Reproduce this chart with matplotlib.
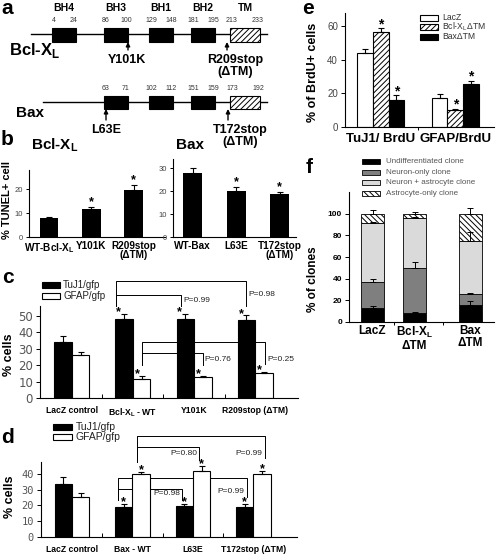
import matplotlib
matplotlib.use('Agg')
import matplotlib.pyplot as plt
from matplotlib.patches import Rectangle
import numpy as np

plt.rcParams['font.family'] = 'Liberation Sans'
plt.rcParams['mathtext.fontset'] = 'custom'
plt.rcParams['mathtext.rm'] = 'Liberation Sans'
plt.rcParams['mathtext.bf'] = 'Liberation Sans:bold'
plt.rcParams['hatch.linewidth'] = 0.7
plt.rcParams['axes.linewidth'] = 0.8

XL = 'X$_\\mathregular{L}$'

# ---------------- data ----------------
# a: domain map
dom_names = ['BH4', 'BH3', 'BH1', 'BH2', 'TM']
bcl_dom = [(4, 24), (86, 100), (129, 148), (181, 195), (213, 233)]
bax_dom = [None, (63, 71), (102, 112), (151, 159), (173, 192)]

# b: TUNEL
bcl_mut = ['WT-Bcl-' + XL, 'Y101K', 'R209stop\n(\u0394TM)']
bcl_tunel = [7.8, 11.5, 19.8]
bcl_tunel_err = [0.5, 1.0, 1.8]
bcl_tunel_sig = [False, True, True]
bax_mut = ['WT-Bax', 'L63E', 'T172stop\n(\u0394TM)']
bax_tunel = [28.0, 20.2, 18.7]
bax_tunel_err = [2.0, 1.5, 0.8]
bax_tunel_sig = [False, True, True]

# c: Bcl-XL mutants
c_groups = ['LacZ control', 'Bcl-' + XL + ' - WT', 'Y101K', 'R209stop (\u0394TM)']
c_tuj1 = [33.9, 47.9, 48.3, 47.7]
c_tuj1_err = [3.7, 3.4, 3.0, 2.6]
c_gfap = [26.1, 11.5, 12.9, 15.0]
c_gfap_err = [1.9, 1.8, 0.6, 0.9]
c_tuj1_sig = [False, True, True, True]
c_gfap_sig = [False, True, True, True]
c_pvals = ['P=0.98', 'P=0.99', 'P=0.25', 'P=0.76']

# d: Bax mutants
d_groups = ['LacZ control', 'Bax - WT', 'L63E', 'T172stop (\u0394TM)']
d_tuj1 = [33.5, 19.3, 19.7, 19.3]
d_tuj1_err = [4.5, 1.7, 1.2, 1.7]
d_gfap = [25.6, 40.0, 42.1, 40.0]
d_gfap_err = [2.3, 1.5, 3.2, 2.1]
d_tuj1_sig = [False, True, True, True]
d_gfap_sig = [False, True, True, True]
d_pvals = ['P=0.99', 'P=0.80', 'P=0.99', 'P=0.98']

# e: BrdU
e_groups = ['TuJ1/ BrdU', 'GFAP/BrdU']
e_series = ['LacZ', 'Bcl-' + XL + '\u0394TM', 'Bax\u0394TM']
e_lacz = [44.2, 17.2]
e_lacz_err = [2.4, 2.6]
e_bcl = [56.5, 9.9]
e_bcl_err = [2.5, 1.0]
e_bax = [15.9, 25.8]
e_bax_err = [2.9, 1.9]
e_sig = [[False, False], [True, True], [True, True]]

# f: clone types
f_groups = ['LacZ', 'Bcl-' + XL + '\n\u0394TM', 'Bax\n\u0394TM']
f_types = ['Undifferentiated clone', 'Neuron-only clone',
           'Neuron + astrocyte clone', 'Astrocyte-only clone']
f_undiff = [12.7, 8.3, 15.7]
f_undiff_err = [2.1, 1.3, 4.0]
f_neuron = [24.1, 41.7, 9.9]
f_neuron_err = [2.7, 5.0, 1.4]
f_both = [54.2, 46.0, 48.8]
f_both_err = [1.5, 1.0, 9.0]
f_astro = [9.0, 4.0, 25.6]
f_astro_err = [3.5, 2.0, 5.0]

# ---------------- figure ----------------
W, H = 496, 555
fig = plt.figure(figsize=(W / 100, H / 100), dpi=100)


def place(l, t, r, b):
    return [l / W, 1 - b / H, (r - l) / W, (b - t) / H]


# overlay in pixel coords, drawn on top of the panels
ov = fig.add_axes([0, 0, 1, 1])
ov.set_xlim(0, W)
ov.set_ylim(H, 0)
ov.axis('off')
ov.set_zorder(10)

for lab, x, y in [('a', 1, 14), ('b', 1, 145), ('c', 2, 283), ('d', 1, 443),
                  ('e', 302, 14), ('f', 306, 173)]:
    ov.text(x, y, lab, fontsize=15, fontweight='bold', ha='left', va='baseline')

# ---------------- a: schematic ----------------
slot_left = [52, 104, 149, 191, 230]
slot_w = [24, 24, 24, 24, 30]
for name, l, w in zip(dom_names, slot_left, slot_w):
    ov.text(l + w / 2, 8, name, fontsize=7.5, fontweight='bold', ha='center', va='center')


def draw_map(doms, y_line, top, bot, y_num, x0):
    ov.plot([x0, 267], [y_line, y_line], color='k', lw=1)
    for i, (d, l, w) in enumerate(zip(doms, slot_left, slot_w)):
        if d is None:
            continue
        tm = dom_names[i] == 'TM'
        ov.add_patch(Rectangle((l, top), w, bot - top, facecolor='white' if tm else 'black',
                               edgecolor='black', hatch='//////' if tm else None, lw=0.8, zorder=3))
        ov.text(l + 2, y_num, str(d[0]), fontsize=5, ha='center', va='center', color='#333')
        ov.text(l + w - 2, y_num, str(d[1]), fontsize=5, ha='center', va='center', color='#333')


draw_map(bcl_dom, 34, 28, 41.5, 21, 31)
draw_map(bax_dom, 102, 95.5, 108.5, 88, 43)
ov.text(9, 50, 'Bcl-' + XL, fontsize=12, fontweight='bold', ha='left', va='center')
ov.text(16, 113, 'Bax', fontsize=11, fontweight='bold', ha='left', va='center')

arrow = dict(arrowstyle='-|>', color='k', lw=1, mutation_scale=6, shrinkA=0, shrinkB=0)
for x, y0, y1, lines, tx, ty in [(128, 50, 42, ['Y101K'], 127, 60),
                                 (227, 50, 42, ['R209stop', '(\u0394TM)'], 235, 60),
                                 (106, 120, 109, ['L63E'], 106, 130),
                                 (228, 120, 109, ['T172stop', '(\u0394TM)'], 240, 130)]:
    ov.annotate('', xy=(x, y1), xytext=(x, y0), arrowprops=arrow)
    for k, s in enumerate(lines):
        ov.text(tx, ty + 12 * k, s, fontsize=9, fontweight='bold', ha='center', va='center')


# ---------------- helpers ----------------
def clean(ax):
    ax.spines['top'].set_visible(False)
    ax.spines['right'].set_visible(False)
    ax.patch.set_alpha(0)


def up_err(ax, x, v, e, lw=0.8, cap=2.2):
    ax.errorbar(x, v, yerr=[np.zeros(len(e)), e], fmt='none', ecolor='k',
                elinewidth=lw, capsize=cap, capthick=lw, zorder=4)


def stars(ax, x, v, e, sig, dx=0, dy=-1, size=9):
    for xi, vi, ei, s in zip(x, v, e, sig):
        if s:
            ax.annotate('*', (xi, vi + ei), xytext=(dx, dy), textcoords='offset points',
                        ha='center', va='baseline', fontsize=size, fontweight='bold',
                        annotation_clip=False)


def bracket(ax, x0, x1, y, y0, y1, label, lx, ly, ha):
    ax.plot([x0, x0, x1, x1], [y0, y, y, y1], color='k', lw=0.7, clip_on=False, zorder=1)
    ax.text(lx, ly, label, fontsize=6, ha=ha, va='center', color='#222')


# ---------------- b ----------------
ov.text(31, 145, 'Bcl-' + XL, fontsize=11, fontweight='bold', ha='left', va='center')
ov.text(176, 145, 'Bax', fontsize=11, fontweight='bold', ha='left', va='center')
ov.text(7, 200, '% TUNEL+ cell', fontsize=8, fontweight='bold', rotation=90,
        ha='center', va='center')

for box, vals, errs, sig, labs, yl, yt, xl in [
        ((29, 170, 165, 237), bcl_tunel, bcl_tunel_err, bcl_tunel_sig, bcl_mut, 28, [0, 10, 20], (-0.47, 2.74)),
        ((173, 159, 296, 237), bax_tunel, bax_tunel_err, bax_tunel_sig, bax_mut, 34, [0, 10, 20, 30], (-0.45, 2.37))]:
    ax = fig.add_axes(place(*box))
    x = np.arange(len(vals))
    ax.bar(x, vals, width=0.44, color='black', zorder=2)
    up_err(ax, x, vals, errs)
    stars(ax, x, vals, errs, sig, dy=1.5, size=9)
    ax.set_ylim(0, yl)
    ax.set_xlim(*xl)
    ax.set_yticks(yt)
    ax.set_xticks(x)
    ax.set_xticklabels(labs, fontsize=7.2, fontweight='bold', linespacing=0.9)
    ax.tick_params(axis='x', length=0, pad=3)
    ax.tick_params(axis='y', length=2.5, width=0.7, labelsize=5.5, labelcolor='#444', pad=2)
    clean(ax)

# ---------------- c & d ----------------
W_BAR = 0.285
OFF = 0.143


def grouped(box, groups, tuj, tuj_e, gfap, gfap_e, tsig, gsig, ylim, yt, xl, tickfont, tsize, sdx):
    ax = fig.add_axes(place(*box))
    g = np.arange(len(groups))
    xb, xw = g - OFF, g + OFF
    ax.bar(xb, tuj, width=W_BAR, color='black', edgecolor='black', lw=0.8, zorder=2)
    ax.bar(xw, gfap, width=W_BAR, color='white', edgecolor='black', lw=0.8, zorder=2)
    up_err(ax, xb, tuj, tuj_e)
    up_err(ax, xw, gfap, gfap_e)
    stars(ax, xb, tuj, tuj_e, tsig, dx=sdx[0], dy=-1)
    stars(ax, xw, gfap, gfap_e, gsig, dx=sdx[1], dy=-1)
    ax.set_ylim(0, ylim)
    ax.set_xlim(*xl)
    ax.set_yticks(yt)
    ax.set_xticks(g)
    ax.set_xticklabels(groups, fontsize=6.2, fontweight='bold')
    ax.set_xticks(g[:-1] + 0.5, minor=True)
    ax.tick_params(axis='x', which='major', length=0, pad=6)
    ax.tick_params(axis='x', which='minor', direction='in', length=3, width=0.7)
    ax.tick_params(axis='y', length=3, width=0.7, labelsize=tsize, labelcolor='#555', pad=2)
    for t in ax.get_yticklabels():
        t.set_family(tickfont)
    clean(ax)
    return ax, xb, xw


axc, xb, xw = grouped((40, 306, 298, 398), c_groups, c_tuj1, c_tuj1_err, c_gfap, c_gfap_err,
                      c_tuj1_sig, c_gfap_sig, 56, [0, 10, 20, 30, 40, 50], (-0.52, 3.70),
                      'DejaVu Sans', 8.5, (-4, -3))
bracket(axc, xb[1] - 0.14, xb[3], 71, 56, 56, c_pvals[0], xb[3] + 0.03, 63, 'left')
bracket(axc, xb[1] - 0.14, xb[2] - 0.07, 63, 56, 56, c_pvals[1], xb[2] - 0.04, 59.4, 'left')
bracket(axc, xw[1], xw[3] + 0.02, 34, 21, 21, c_pvals[2], xw[3] + 0.05, 23.6, 'left')
bracket(axc, xw[1], xw[2], 27.3, 20, 20, c_pvals[3], xw[2] + 0.03, 23.6, 'left')
ov.text(9, 355, '% cells', fontsize=9, fontweight='bold', rotation=90, ha='center', va='center')
ov.add_patch(Rectangle((42, 282), 18, 6, facecolor='black', edgecolor='black', lw=0.8))
ov.add_patch(Rectangle((42, 292.5), 18, 6, facecolor='white', edgecolor='black', lw=0.8))
ov.text(63, 285, 'TuJ1/gfp', fontsize=7, ha='left', va='center', color='#222')
ov.text(63, 296, 'GFAP/gfp', fontsize=7, ha='left', va='center', color='#222')

axd, xb, xw = grouped((41, 462, 297, 537), d_groups, d_tuj1, d_tuj1_err, d_gfap, d_gfap_err,
                      d_tuj1_sig, d_gfap_sig, 47.6, [0, 10, 20, 30, 40], (-0.51, 3.72),
                      'DejaVu Sans Mono', 7.5, (0, 0))
bracket(axd, xw[1] - 0.07, xw[3] + 0.05, 64.1, 47.6, 50.2, d_pvals[0], xw[3] + 0.01, 52.7, 'right')
bracket(axd, xw[1] - 0.07, xw[2] - 0.04, 57.1, 47.6, 48.9, d_pvals[1], xw[2] - 0.07, 52.7, 'right')
bracket(axd, xb[1] - 0.1, xb[3] + 0.03, 37.5, 23.5, 25.4, d_pvals[2], xb[3] - 0.01, 28.6, 'right')
bracket(axd, xb[1] - 0.1, xb[2] - 0.03, 30.5, 23.5, 23.5, d_pvals[3], xb[2] - 0.06, 27.3, 'right')
ov.text(10, 497, '% cells', fontsize=9, fontweight='bold', rotation=90, ha='center', va='center')
ov.add_patch(Rectangle((53, 424), 19, 6, facecolor='black', edgecolor='black', lw=0.8))
ov.add_patch(Rectangle((53, 434), 19, 6, facecolor='white', edgecolor='black', lw=0.8))
ov.text(76, 427, 'TuJ1/gfp', fontsize=7.5, ha='left', va='center', color='#222')
ov.text(76, 437.5, 'GFAP/gfp', fontsize=7.5, ha='left', va='center', color='#222')

# ---------------- e ----------------
axe = fig.add_axes(place(345, 13, 494, 127))
g = np.arange(len(e_groups))
ew = 0.21
styles = [dict(color='white', hatch=None), dict(color='white', hatch='//////'),
          dict(color='black', hatch=None)]
for k, (vals, errs) in enumerate([(e_lacz, e_lacz_err), (e_bcl, e_bcl_err), (e_bax, e_bax_err)]):
    x = g + (k - 1) * ew
    axe.bar(x, vals, width=ew, color=styles[k]['color'], hatch=styles[k]['hatch'],
            edgecolor='black', lw=0.8, zorder=2)
    up_err(axe, x, vals, errs)
    stars(axe, x, vals, errs, e_sig[k], dy=0, size=10)
axe.set_ylim(0, 68)
axe.set_xlim(-0.48, 1.52)
axe.set_yticks([0, 20, 40, 60])
axe.set_xticks(g)
axe.set_xticklabels(e_groups, fontsize=9.5, fontweight='bold')
axe.set_xticks([0.5], minor=True)
axe.tick_params(axis='x', which='major', length=0, pad=4)
axe.tick_params(axis='x', which='minor', length=2.5, width=0.7)
axe.tick_params(axis='y', length=3, width=0.7, labelsize=7, labelcolor='#444', pad=2)
clean(axe)
ov.text(313, 72, '% of BrdU+ cells', fontsize=9, fontweight='bold', rotation=90,
        ha='center', va='center')
for k, (name, y) in enumerate(zip(e_series, [17.5, 27, 36.5])):
    ov.add_patch(Rectangle((420, y - 3), 18, 6, facecolor=styles[k]['color'],
                           hatch=styles[k]['hatch'], edgecolor='black', lw=0.8))
    ov.text(442, y, name, fontsize=6.2, ha='left', va='center', color='#333')

# ---------------- f ----------------
axf = fig.add_axes(place(349, 192, 494, 322))
xf = np.array([0, 1, 2.33])
fcols = ['black', '#7f7f7f', '#dadada', 'white']
fhatch = [None, None, None, '\\\\\\\\\\\\']
bottom = np.zeros(3)
for k, (vals, errs) in enumerate([(f_undiff, f_undiff_err), (f_neuron, f_neuron_err),
                                  (f_both, f_both_err), (f_astro, f_astro_err)]):
    axf.bar(xf, vals, bottom=bottom, width=0.55, color=fcols[k], hatch=fhatch[k],
            edgecolor='black', lw=0.6, zorder=2)
    bottom = bottom + np.array(vals)
    up_err(axf, xf, bottom, errs, lw=0.7, cap=2)
axf.set_ylim(0, 120)
axf.set_xlim(-0.56, 2.89)
axf.set_yticks([0, 20, 40, 60, 80, 100])
axf.set_xticks(xf)
axf.set_xticklabels(f_groups, fontsize=8.5, fontweight='bold', linespacing=1.0)
axf.set_xticks([0.5, 1.67], minor=True)
axf.tick_params(axis='x', which='major', length=0, pad=2)
axf.tick_params(axis='x', which='minor', length=2.5, width=0.7)
axf.tick_params(axis='y', length=3, width=0.7, labelsize=6, pad=2)
for t in axf.get_yticklabels():
    t.set_fontweight('bold')
clean(axf)
ov.text(313, 279, '% of clones', fontsize=8.5, fontweight='bold', rotation=90,
        ha='center', va='center')
for k, (name, y) in enumerate(zip(f_types, [161.5, 172.5, 182.5, 193.5])):
    ov.add_patch(Rectangle((362, y - 2.7), 18, 5.4, facecolor=fcols[k], hatch=fhatch[k],
                           edgecolor='black', lw=0.6))
    ov.text(386, y, name, fontsize=5.8, ha='left', va='center', color='#555')

fig.savefig('out.png', dpi=100)
